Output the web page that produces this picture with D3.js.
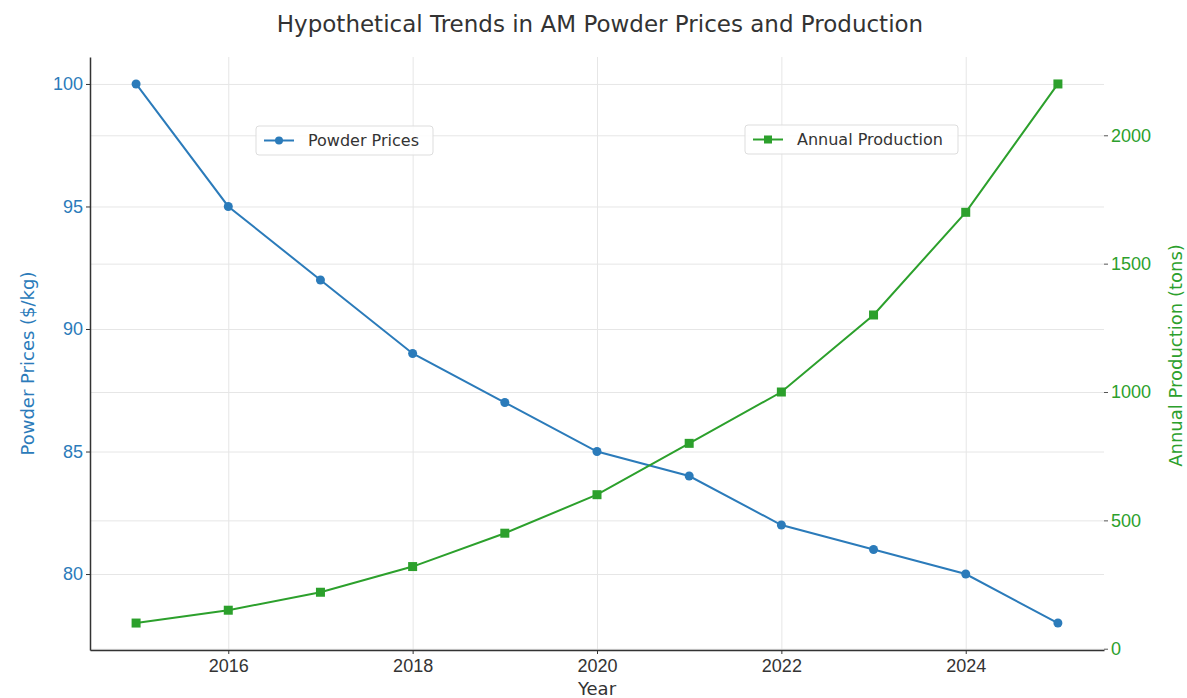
<!DOCTYPE html>
<html>
<head>
<meta charset="utf-8">
<script src="https://cdn.jsdelivr.net/npm/d3@7"></script>
<style>
  html, body { margin: 0; padding: 0; background: #fff; }
  svg { display: block; font-family: "DejaVu Sans", sans-serif; }
  .grid line { stroke: #e6e6e6; stroke-width: 1; }
  .grid path { display: none; }
</style>
</head>
<body>
<svg id="chart" width="1187" height="698"></svg>
<script>
// ---- data ----
const years = [2015, 2016, 2017, 2018, 2019, 2020, 2021, 2022, 2023, 2024, 2025];
const powderPrices = [100, 95, 92, 89, 87, 85, 84, 82, 81, 80, 78];
const annualProduction = [100, 150, 220, 320, 450, 600, 800, 1000, 1300, 1700, 2200];
const xTicks = [2016, 2018, 2020, 2022, 2024];
const leftTicks = [80, 85, 90, 95, 100];
const rightTicks = [0, 500, 1000, 1500, 2000];

const blue = '#2b7bba';
const green = '#2ca02c';

const svg = d3.select('#chart');
const plot = { left: 90, right: 1104, top: 57, bottom: 650 };

const x = d3.scaleLinear().domain([2014.5, 2025.5]).range([plot.left, plot.right]);
const yL = d3.scaleLinear().domain([76.9, 101.1]).range([plot.bottom, plot.top]);
const yR = d3.scaleLinear().domain([-5, 2305]).range([plot.bottom, plot.top]);

// grid
svg.append('g').attr('class', 'grid')
  .attr('transform', `translate(0,${plot.bottom})`)
  .call(d3.axisBottom(x).tickValues(xTicks).tickSize(-(plot.bottom - plot.top)).tickFormat(''));
svg.append('g').attr('class', 'grid')
  .attr('transform', `translate(${plot.left},0)`)
  .call(d3.axisLeft(yL).tickValues(leftTicks).tickSize(-(plot.right - plot.left)).tickFormat(''));
svg.append('g').attr('class', 'grid')
  .attr('transform', `translate(${plot.right},0)`)
  .call(d3.axisRight(yR).tickValues(rightTicks).tickSize(-(plot.right - plot.left)).tickFormat(''));

// axes
const xAxis = svg.append('g')
  .attr('transform', `translate(0,${plot.bottom})`)
  .call(d3.axisBottom(x).tickValues(xTicks).tickFormat(d3.format('d')).tickSizeInner(4).tickSizeOuter(0));
xAxis.select('.domain').attr('stroke', '#333').attr('stroke-width', 1.5);
xAxis.selectAll('.tick line').attr('stroke', '#333');
xAxis.selectAll('.tick text').attr('fill', '#333').attr('font-size', 18).attr('dy', '0.85em');

const lAxis = svg.append('g')
  .attr('transform', `translate(${plot.left},0)`)
  .call(d3.axisLeft(yL).tickValues(leftTicks).tickSizeInner(4).tickSizeOuter(0));
lAxis.select('.domain').attr('stroke', '#333').attr('stroke-width', 1.5);
lAxis.selectAll('.tick line').attr('stroke', '#333');
lAxis.selectAll('.tick text').attr('fill', blue).attr('font-size', 18);

const rAxis = svg.append('g')
  .attr('transform', `translate(${plot.right},0)`)
  .call(d3.axisRight(yR).tickValues(rightTicks).tickFormat(d3.format('d')).tickSizeInner(4).tickSizeOuter(0));
rAxis.select('.domain').remove();
rAxis.selectAll('.tick line').attr('stroke', '#555');
rAxis.selectAll('.tick text').attr('fill', green).attr('font-size', 18);

// lines
const lineL = d3.line().x((d, i) => x(years[i])).y(d => yL(d));
const lineR = d3.line().x((d, i) => x(years[i])).y(d => yR(d));

svg.append('path').datum(powderPrices)
  .attr('d', lineL).attr('fill', 'none').attr('stroke', blue).attr('stroke-width', 2);
svg.selectAll('.ptL').data(powderPrices).enter().append('circle')
  .attr('cx', (d, i) => x(years[i])).attr('cy', d => yL(d)).attr('r', 4.5).attr('fill', blue);

svg.append('path').datum(annualProduction)
  .attr('d', lineR).attr('fill', 'none').attr('stroke', green).attr('stroke-width', 2);
svg.selectAll('.ptR').data(annualProduction).enter().append('rect')
  .attr('x', (d, i) => x(years[i]) - 4.5).attr('y', d => yR(d) - 4.5)
  .attr('width', 9).attr('height', 9).attr('fill', green);

// titles
svg.append('text').attr('x', 600).attr('y', 32).attr('text-anchor', 'middle')
  .attr('font-size', 23).attr('fill', '#333').text('Hypothetical Trends in AM Powder Prices and Production');
svg.append('text').attr('x', 597).attr('y', 695).attr('text-anchor', 'middle')
  .attr('font-size', 18).attr('fill', '#333').text('Year');
svg.append('text').attr('transform', `translate(34,${(plot.top + plot.bottom) / 2 + 10}) rotate(-90)`)
  .attr('text-anchor', 'middle').attr('font-size', 18).attr('fill', blue).text('Powder Prices ($/kg)');
svg.append('text').attr('transform', `translate(1182,${(plot.top + plot.bottom) / 2 + 2}) rotate(-90)`)
  .attr('text-anchor', 'middle').attr('font-size', 18).attr('fill', green).text('Annual Production (tons)');

// legends
function legend(x0, y0, w, label, color, square) {
  const g = svg.append('g').attr('transform', `translate(${x0},${y0})`);
  g.append('rect').attr('width', w).attr('height', 29).attr('rx', 3)
    .attr('fill', 'rgba(255,255,255,0.85)').attr('stroke', '#ddd');
  g.append('line').attr('x1', 8).attr('x2', 38).attr('y1', 14.5).attr('y2', 14.5)
    .attr('stroke', color).attr('stroke-width', 2);
  if (square) g.append('rect').attr('x', 19).attr('y', 10.5).attr('width', 8).attr('height', 8).attr('fill', color);
  else g.append('circle').attr('cx', 23).attr('cy', 14.5).attr('r', 4).attr('fill', color);
  g.append('text').attr('x', 52).attr('y', 20).attr('font-size', 16).attr('fill', '#333').text(label);
}
legend(256, 126, 177, 'Powder Prices', blue, false);
legend(745, 125, 213, 'Annual Production', green, true);
</script>
</body>
</html>
